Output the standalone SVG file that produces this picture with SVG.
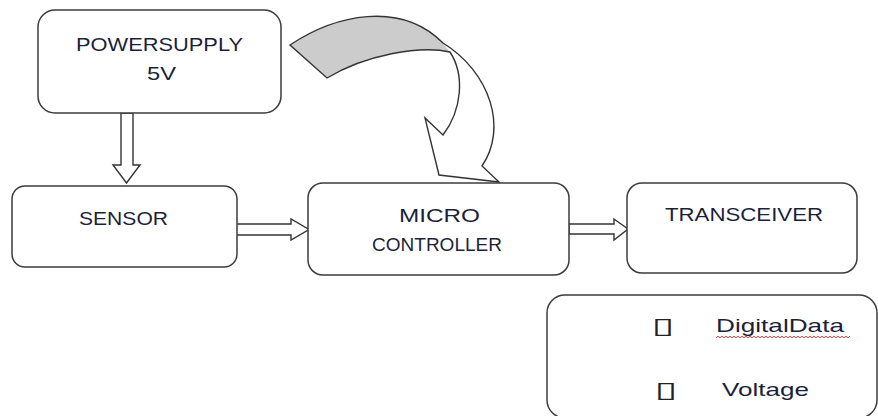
<svg xmlns="http://www.w3.org/2000/svg" width="878" height="416" viewBox="0 0 878 416">
<style>
.box{fill:#fff;stroke:#3c3c3c;stroke-width:1.5}
.lbl{font-family:"Liberation Sans",Arial,sans-serif;font-size:19px;fill:#1c1f3a;text-anchor:middle}
.arr{fill:#fff;stroke:#333;stroke-width:1.4;stroke-linejoin:miter}
.sym{font-family:"DejaVu Sans",sans-serif;font-size:22px;fill:#222;text-anchor:middle}
</style>
<rect width="878" height="416" fill="#fff"/>
<g id="connectors">
<polygon class="arr" points="121,113 133,113 133,165 140,165 126.5,183 113,165 121,165"/>
<polygon class="arr" points="234,224 291,224 291,219 309,229.5 291,240 291,235 234,235"/>
<polygon class="arr" points="569,224 614,224 614,219 628,229 614,240 614,234 569,234"/>
<g id="curved-arrow">
<path d="M290,45 C335,15 400,0 443,43 L450,52 C420,45 365,55 327,78 Z" fill="#cccccc" stroke="none"/>
<path d="M443,43 C490,72 508,128 482,166 L499,182 L439,175 L425,118 L443,135 C462,110 465,75 450,52 Z" fill="#fff" stroke="none"/>
<path d="M290,45 C335,15 400,0 443,43 C490,72 508,128 482,166 L499,182 L439,175 L425,118 L443,135 C462,110 465,75 450,52 C420,45 365,55 327,78 Z" fill="none" stroke="#333" stroke-width="1.4" stroke-linejoin="miter"/>
</g>
</g>
<g id="powersupply">
<rect class="box" x="38" y="10" width="243" height="103" rx="17"/>
<text class="lbl" x="159.5" y="51" textLength="167" lengthAdjust="spacingAndGlyphs">POWERSUPPLY</text>
<text class="lbl" x="161.5" y="80" textLength="29" lengthAdjust="spacingAndGlyphs">5V</text>
</g>
<g id="sensor">
<rect class="box" x="12" y="186" width="225" height="81" rx="13"/>
<text class="lbl" x="123.5" y="225" textLength="89" lengthAdjust="spacingAndGlyphs">SENSOR</text>
</g>
<g id="microcontroller">
<rect class="box" x="308" y="183" width="261" height="92" rx="15"/>
<text class="lbl" x="439.5" y="222" textLength="81" lengthAdjust="spacingAndGlyphs">MICRO</text>
<text class="lbl" x="437" y="251" font-size="17" textLength="130" lengthAdjust="spacingAndGlyphs">CONTROLLER</text>
</g>
<g id="transceiver">
<rect class="box" x="627" y="183" width="230" height="90" rx="15"/>
<text class="lbl" x="744" y="221" textLength="158" lengthAdjust="spacingAndGlyphs">TRANSCEIVER</text>
</g>
<g id="legend">
<rect class="box" x="547" y="295" width="330" height="123" rx="18"/>
<text class="sym" transform="translate(663,333) scale(1.9,1)" x="0" y="0">▯</text>
<text class="lbl" x="780" y="332" textLength="128" lengthAdjust="spacingAndGlyphs">DigitalData</text>
<path d="M716,338 l2,-2 l2,2 l2,-2 l2,2 l2,-2 l2,2 l2,-2 l2,2 l2,-2 l2,2 l2,-2 l2,2 l2,-2 l2,2 l2,-2 l2,2 l2,-2 l2,2 l2,-2 l2,2 l2,-2 l2,2 l2,-2 l2,2 l2,-2 l2,2 l2,-2 l2,2 l2,-2 l2,2 l2,-2 l2,2 l2,-2 l2,2 l2,-2 l2,2 l2,-2 l2,2 l2,-2 l2,2 l2,-2 l2,2 l2,-2 l2,2 l2,-2 l2,2 l2,-2 l2,2 l2,-2 l2,2 l2,-2 l2,2 l2,-2 l2,2 l2,-2 l2,2 l2,-2 l2,2 l2,-2 l2,2 l2,-2 l2,2 l2,-2 l2,2 l2,-2 l2,2 l2,-2" fill="none" stroke="#e03030" stroke-width="0.9"/>
<text class="sym" transform="translate(666,397) scale(1.9,1)" x="0" y="0">▯</text>
<text class="lbl" x="765.5" y="396" textLength="87" lengthAdjust="spacingAndGlyphs">Voltage</text>
</g>
</svg>
